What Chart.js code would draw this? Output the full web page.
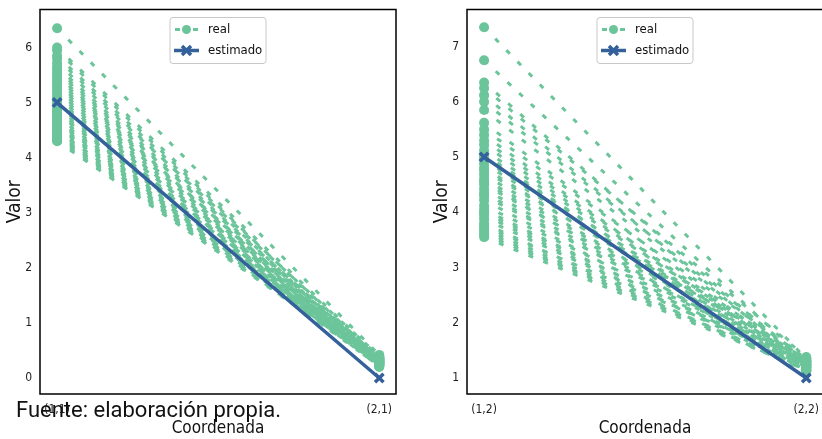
<!DOCTYPE html>
<html>
<head>
<title>Valor por coordenada</title>
<script src="https://cdnjs.cloudflare.com/ajax/libs/Chart.js/4.4.0/chart.umd.min.js"></script>
<style>
  body { margin: 0; width: 822px; height: 439px; overflow: hidden; background: #fff; position: relative; }
  .panel { position: absolute; top: 0; height: 439px; }
  #p1 { left: 0; width: 410px; }
  #p2 { left: 410px; width: 432px; }
  .fuente {
    position: absolute; left: 16px; top: 397px;
    font-family: Roboto, sans-serif; font-size: 22px; color: #111; white-space: nowrap;
  }
</style>
</head>
<body>
<div class="panel" id="p1"><canvas id="c1"></canvas></div>
<div class="panel" id="p2"><canvas id="c2"></canvas></div>
<div class="fuente">Fuente: elaboración propia.</div>

<script>
// x categories (tick labels)
const leftLabels = ['(1,1)', '(2,1)'];
const rightLabels = ['(1,2)', '(2,2)'];

// left panel: observed values at first and second coordinate
const leftRealStart = [6.35, 6.0, 5.95, 5.85, 5.8, 5.72, 5.65, 5.6, 5.55, 5.5, 5.45, 5.4, 5.35, 5.3,
  5.25, 5.2, 5.15, 5.1, 5.05, 5.02, 4.98, 4.95, 4.9, 4.86, 4.82, 4.8, 4.75, 4.7, 4.68, 4.65,
  4.6, 4.58, 4.55, 4.5, 4.48, 4.45, 4.42, 4.4, 4.38, 4.35, 4.32, 4.3];
const leftRealEnd = [0.42, 0.38, 0.3, 0.35, 0.25, 0.4, 0.32, 0.28, 0.36, 0.22, 0.3, 0.34, 0.26, 0.38,
  0.3, 0.24, 0.33, 0.28, 0.4, 0.2, 0.31, 0.27, 0.35, 0.23, 0.3, 0.37, 0.25, 0.32, 0.29, 0.21,
  0.34, 0.26, 0.3, 0.24, 0.36, 0.28, 0.22, 0.33, 0.27, 0.3, 0.25, 0.29];
const leftEstimated = [5, 0];

// right panel
const rightRealStart = [7.35, 6.75, 6.35, 6.25, 6.12, 6.0, 5.85, 5.62, 5.5, 5.4, 5.3, 5.22, 5.12,
  5.05, 5.0, 4.95, 4.88, 4.8, 4.75, 4.68, 4.6, 4.55, 4.5, 4.42, 4.35, 4.3, 4.22, 4.12, 4.05,
  4.0, 3.95, 3.88, 3.8, 3.75, 3.7, 3.65, 3.6, 3.55];
const rightRealEnd = [1.35, 1.3, 1.25, 1.38, 1.2, 1.32, 1.28, 1.22, 1.35, 1.18, 1.3, 1.25, 1.33,
  1.2, 1.28, 1.15, 1.3, 1.24, 1.36, 1.2, 1.27, 1.12, 1.3, 1.22, 1.18, 1.26, 1.14, 1.3, 1.2,
  1.25, 1.16, 1.22, 1.12, 1.28, 1.18, 1.14, 1.2, 1.15];
const rightEstimated = [5, 1];

const GREEN = '#6cc59a';
const BLUE = '#34619b';
const TICK_FONT = { family: "'DejaVu Sans Condensed', 'DejaVu Sans', sans-serif", size: 12 };

const frame = {
  id: 'frame',
  afterDraw(chart) {
    const a = chart.chartArea, ctx = chart.ctx;
    ctx.save();
    ctx.strokeStyle = '#000';
    ctx.lineWidth = 1.5;
    ctx.strokeRect(a.left, a.top, a.right - a.left, a.bottom - a.top);
    ctx.restore();
  }
};

const legendBox = {
  id: 'legendBox',
  afterDraw(chart) {
    const a = chart.chartArea, ctx = chart.ctx;
    const w = 96, h = 46;
    const x = (a.left + a.right) / 2 - w / 2, y = a.top + 8;
    ctx.save();
    ctx.beginPath();
    ctx.roundRect(x, y, w, h, 3);
    ctx.fillStyle = 'rgba(255,255,255,0.85)';
    ctx.fill();
    ctx.strokeStyle = '#c8c8c8';
    ctx.lineWidth = 1;
    ctx.stroke();

    // real
    let ry = y + 12;
    ctx.strokeStyle = GREEN;
    ctx.lineWidth = 3;
    ctx.setLineDash([5, 4]);
    ctx.beginPath(); ctx.moveTo(x + 5, ry); ctx.lineTo(x + 28, ry); ctx.stroke();
    ctx.setLineDash([]);
    ctx.fillStyle = GREEN;
    ctx.beginPath(); ctx.arc(x + 16.5, ry, 4.5, 0, Math.PI * 2); ctx.fill();

    // estimado
    let ey = y + 33;
    ctx.strokeStyle = BLUE;
    ctx.lineWidth = 3.5;
    ctx.beginPath(); ctx.moveTo(x + 4, ey); ctx.lineTo(x + 29, ey); ctx.stroke();
    ctx.beginPath();
    ctx.moveTo(x + 12, ey - 4.5); ctx.lineTo(x + 21, ey + 4.5);
    ctx.moveTo(x + 21, ey - 4.5); ctx.lineTo(x + 12, ey + 4.5);
    ctx.stroke();

    ctx.fillStyle = '#111';
    ctx.font = "13px 'DejaVu Sans Condensed', 'DejaVu Sans', sans-serif";
    ctx.textBaseline = 'middle';
    ctx.fillText('real', x + 38, ry);
    ctx.fillText('estimado', x + 38, ey);
    ctx.restore();
  }
};

function makeChart(id, labels, starts, ends, est, yMin, yMax, yTicks, padLeft, padRight) {
  const datasets = starts.map((s, i) => ({
    data: [{ x: 0, y: s }, { x: 1, y: ends[i] }],
    borderColor: GREEN,
    backgroundColor: GREEN,
    borderWidth: 3,
    borderDash: [5, 11],
    pointRadius: 5,
    pointBorderWidth: 0,
    pointBackgroundColor: GREEN,
    order: 1
  }));
  datasets.push({
    data: [{ x: 0, y: est[0] }, { x: 1, y: est[1] }],
    borderColor: BLUE,
    borderWidth: 3.5,
    pointStyle: 'crossRot',
    pointRadius: 6,
    pointBorderWidth: 3.5,
    pointBorderColor: BLUE,
    order: 0
  });

  return new Chart(document.getElementById(id), {
    type: 'line',
    data: { datasets: datasets },
    plugins: [frame, legendBox],
    options: {
      responsive: true,
      maintainAspectRatio: false,
      animation: false,
      layout: { padding: { left: padLeft, right: padRight, top: 8, bottom: 0 } },
      plugins: { legend: { display: false }, tooltip: { enabled: false } },
      scales: {
        x: {
          type: 'linear',
          min: -0.053,
          max: 1.052,
          afterBuildTicks: s => { s.ticks = [{ value: 0 }, { value: 1 }]; },
          afterFit: s => { s.height = 45; s.paddingLeft = 0; s.paddingRight = 0; },
          ticks: { callback: v => labels[Math.round(v)], padding: 9, font: TICK_FONT, color: '#222', maxRotation: 0 },
          grid: { display: false, drawTicks: false },
          border: { display: false },
          title: { display: true, text: 'Coordenada', color: '#111', padding: { top: 1, bottom: 0 },
                   font: { family: TICK_FONT.family, size: 17 } }
        },
        y: {
          min: yMin,
          max: yMax,
          afterBuildTicks: s => { s.ticks = yTicks.map(v => ({ value: v })); },
          afterFit: s => { s.width = 40; s.paddingTop = 0; s.paddingBottom = 0; },
          ticks: { padding: 8, font: TICK_FONT, color: '#222' },
          grid: { display: false, drawTicks: false },
          border: { display: false },
          title: { display: true, text: 'Valor', color: '#111', padding: { top: 4, bottom: 0 },
                   font: { family: TICK_FONT.family, size: 19 } }
        }
      }
    }
  });
}

makeChart('c1', leftLabels, leftRealStart, leftRealEnd, leftEstimated, -0.29, 6.69, [0, 1, 2, 3, 4, 5, 6], 0, 14);
makeChart('c2', rightLabels, rightRealStart, rightRealEnd, rightEstimated, 0.71, 7.67, [1, 2, 3, 4, 5, 6, 7], 17, 19);
</script>
</body>
</html>
